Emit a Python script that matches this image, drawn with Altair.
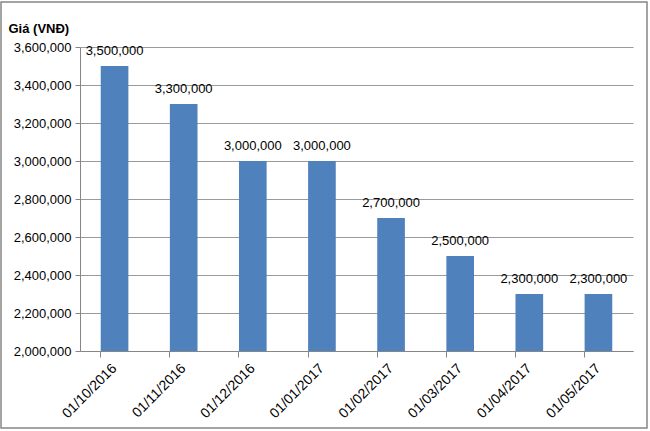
import altair as alt
import pandas as pd

dates = ["01/10/2016", "01/11/2016", "01/12/2016", "01/01/2017",
         "01/02/2017", "01/03/2017", "01/04/2017", "01/05/2017"]
prices = [3500000, 3300000, 3000000, 3000000, 2700000, 2500000, 2300000, 2300000]
y_ticks = [2000000, 2200000, 2400000, 2600000, 2800000, 3000000, 3200000, 3400000, 3600000]

df = pd.DataFrame({"date": dates, "price": prices})
df["label"] = df["price"].map(lambda v: f"{v:,}")

FONT = "Liberation Sans"

x_axis = alt.Axis(title=None, labelAngle=-45, labelAlign="right",
                  labelBaseline="middle", labelFont=FONT, labelFontSize=14,
                  labelColor="#000000", labelPadding=9, labelOverlap=False,
                  bandPosition=0, tickSize=6, tickColor="#868686",
                  domainColor="#868686", grid=False)
y_axis = alt.Axis(values=y_ticks, labelExpr="format(datum.value, ',')",
                  labelFont=FONT, labelFontSize=13,
                  labelColor="#000000", tickSize=5, tickColor="#868686",
                  labelOverlap=False,
                  domainColor="#868686", gridColor="#9A9A9A", labelPadding=4,
                  title="Giá (VNĐ)", titleAngle=0, titleX=-72, titleY=-19,
                  titleAlign="left", titleBaseline="middle", titleFont=FONT,
                  titleFontSize=13, titleFontWeight="bold", titleColor="#000000")
x_scale = alt.Scale(paddingInner=0.6, paddingOuter=0.3)
y_scale = alt.Scale(domain=[2000000, 3600000], nice=False, zero=False)

bars = alt.Chart(df).mark_bar(color="#4F81BD", clip=True).encode(
    x=alt.X("date:N", sort=dates, scale=x_scale, axis=x_axis),
    y=alt.Y("price:Q", scale=y_scale, axis=y_axis),
    y2=alt.datum(2000000),
)

labels = alt.Chart(df).mark_text(font=FONT, fontSize=13, color="#000000",
                                 baseline="middle", dy=-15).encode(
    x=alt.X("date:N", sort=dates, scale=x_scale, axis=x_axis),
    y=alt.Y("price:Q", scale=y_scale, axis=y_axis),
    text="label:N",
)

frame = alt.Chart(pd.DataFrame({"k": [0]})).mark_rect(
    fill=None, stroke="#868686", strokeWidth=1.5).encode(
    x=alt.value(-79), x2=alt.value(567), y=alt.value(-45), y2=alt.value(381))

chart = alt.layer(bars, labels, frame).properties(
    width=553, height=304,
    autosize=alt.AutoSizeParams(type="none"),
    padding={"left": 80, "top": 47, "right": 17, "bottom": 80},
).configure(background="white").configure_view(stroke=None)

chart.save("out.html", embed_options={"renderer": "svg", "actions": False})
